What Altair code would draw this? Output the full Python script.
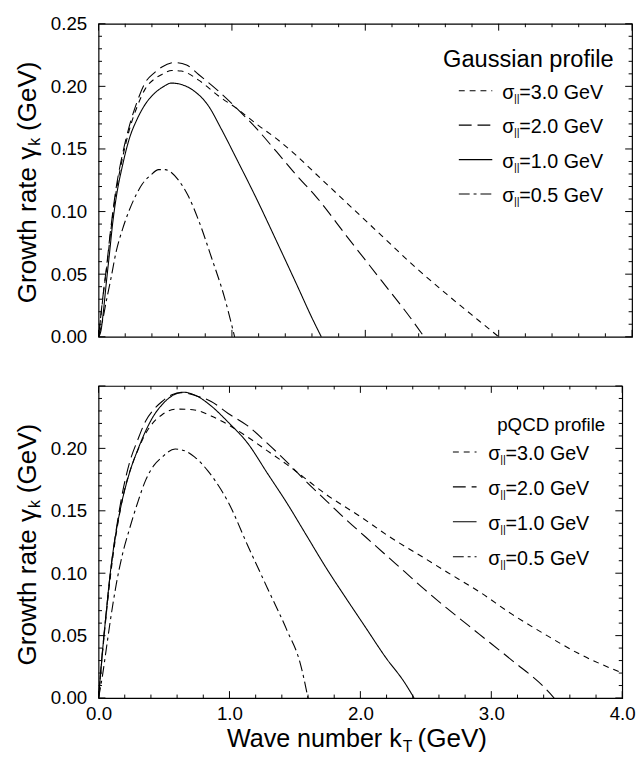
import altair as alt
import pandas as pd

FONT = "Liberation Sans"

# ---------------- data ----------------
SERIES = ["3.0", "2.0", "1.0", "0.5"]
DASHES = [[6, 5], [13, 6], [1, 0], [11, 4, 3, 4]]

# Gaussian profile (top panel)
GA_K_30 = [0, 0.02, 0.04, 0.06, 0.09, 0.132, 0.18, 0.23, 0.29, 0.35, 0.42, 0.475, 0.55, 0.62, 0.75, 0.895,
           1.04, 1.19, 1.336, 1.48, 1.63, 1.87, 2.12, 2.36, 2.61, 2.85, 3.0]
GA_G_30 = [0, 0.019, 0.038, 0.054, 0.083, 0.116, 0.143, 0.165, 0.184, 0.198, 0.206, 0.2095, 0.2126, 0.2122,
           0.205, 0.1927, 0.182, 0.1695, 0.158, 0.145, 0.130, 0.106, 0.081, 0.057, 0.034, 0.013, 0]
GA_K_20 = [0, 0.02, 0.04, 0.059, 0.09, 0.132, 0.18, 0.23, 0.29, 0.35, 0.42, 0.475, 0.57, 0.66, 0.75, 0.895,
           1.04, 1.19, 1.336, 1.48, 1.63, 1.87, 2.12, 2.36, 2.44]
GA_G_20 = [0, 0.02, 0.039, 0.055, 0.085, 0.119, 0.146, 0.168, 0.188, 0.203, 0.211, 0.2155, 0.219, 0.217,
           0.2095, 0.1966, 0.182, 0.1656, 0.1476, 0.1295, 0.112, 0.079, 0.045, 0.012, 0]
GA_K_10 = [0, 0.02, 0.034, 0.06, 0.083, 0.105, 0.132, 0.18, 0.23, 0.29, 0.352, 0.415, 0.475, 0.548, 0.62,
           0.72, 0.82, 0.92, 1.04, 1.19, 1.336, 1.48, 1.605, 1.67]
GA_G_10 = [0, 0.006, 0.018, 0.045, 0.0676, 0.09, 0.111, 0.137, 0.158, 0.174, 0.186, 0.194, 0.199, 0.2026,
           0.2015, 0.196, 0.185, 0.166, 0.141, 0.109, 0.076, 0.043, 0.014, 0]
GA_K_05 = [0, 0.03, 0.059, 0.09, 0.132, 0.18, 0.23, 0.28, 0.328, 0.39, 0.45, 0.5, 0.548, 0.6, 0.67, 0.75,
           0.846, 0.944, 1.02]
GA_G_05 = [0, 0.013, 0.029, 0.045, 0.068, 0.086, 0.101, 0.113, 0.122, 0.129, 0.1335, 0.1335, 0.131, 0.125,
           0.113, 0.093, 0.0635, 0.0315, 0]

# pQCD profile (bottom panel)
PQ_K_30 = [0, 0.03, 0.06, 0.09, 0.14, 0.19, 0.26, 0.31, 0.36, 0.42, 0.485, 0.6, 0.72, 0.86, 0.99, 1.14, 1.29,
           1.44, 1.565, 1.74, 1.99, 2.24, 2.49, 2.66, 2.91, 3.16, 3.41, 3.66, 4.0]
PQ_G_30 = [0, 0.036, 0.068, 0.097, 0.135, 0.163, 0.188, 0.201, 0.212, 0.221, 0.227, 0.2315, 0.231, 0.226,
           0.219, 0.209, 0.198, 0.187, 0.177, 0.163, 0.146, 0.128, 0.112, 0.101, 0.085, 0.067, 0.051, 0.036, 0.02]
PQ_K_20 = [0, 0.03, 0.06, 0.09, 0.135, 0.18, 0.235, 0.3, 0.36, 0.42, 0.485, 0.56, 0.635, 0.75, 0.86, 0.99,
           1.14, 1.29, 1.44, 1.59, 1.74, 1.89, 2.04, 2.19, 2.34, 2.49, 2.66, 2.91, 3.16, 3.41, 3.48]
PQ_G_20 = [0, 0.038, 0.07, 0.10, 0.135, 0.163, 0.188, 0.207, 0.222, 0.231, 0.2376, 0.243, 0.2447, 0.242,
           0.2376, 0.228, 0.218, 0.204, 0.189, 0.173, 0.158, 0.143, 0.129, 0.115, 0.101, 0.087, 0.072, 0.051,
           0.030, 0.008, 0]
PQ_K_10 = [0, 0.035, 0.06, 0.085, 0.12, 0.16, 0.235, 0.3, 0.36, 0.42, 0.485, 0.56, 0.647, 0.75, 0.86, 0.99,
           1.14, 1.29, 1.44, 1.59, 1.74, 1.89, 2.04, 2.19, 2.34, 2.41]
PQ_G_10 = [0, 0.043, 0.07, 0.096, 0.124, 0.148, 0.18, 0.199, 0.214, 0.226, 0.235, 0.242, 0.245, 0.242, 0.234,
           0.221, 0.204, 0.18, 0.156, 0.13, 0.104, 0.080, 0.0565, 0.033, 0.012, 0]
PQ_K_05 = [0, 0.03, 0.06, 0.09, 0.135, 0.18, 0.235, 0.3, 0.36, 0.42, 0.485, 0.585, 0.66, 0.735, 0.835, 0.935,
           0.99, 1.14, 1.29, 1.44, 1.54, 1.60]
PQ_G_05 = [0, 0.018, 0.04, 0.062, 0.091, 0.114, 0.135, 0.157, 0.1746, 0.186, 0.193, 0.1995, 0.198, 0.193,
           0.182, 0.167, 0.157, 0.122, 0.088, 0.054, 0.028, 0]

X_LABELS = [0.0, 1.0, 2.0, 3.0, 4.0]
Y_LABELS_TOP = [0.0, 0.05, 0.10, 0.15, 0.20, 0.25]
Y_LABELS_BOT = [0.0, 0.05, 0.10, 0.15, 0.20]
X_MAJOR = [0.0, 1.0, 2.0, 3.0, 4.0]
X_MINOR = [0.2, 0.4, 0.6, 0.8, 1.2, 1.4, 1.6, 1.8, 2.2, 2.4, 2.6, 2.8, 3.2, 3.4, 3.6, 3.8]
Y_MAJOR = [0.0, 0.05, 0.10, 0.15, 0.20, 0.25]
Y_MINOR = [0.01, 0.02, 0.03, 0.04, 0.06, 0.07, 0.08, 0.09, 0.11, 0.12, 0.13, 0.14,
           0.16, 0.17, 0.18, 0.19, 0.21, 0.22, 0.23, 0.24]
LEG_VALUES = ["=3.0 GeV", "=2.0 GeV", "=1.0 GeV", "=0.5 GeV"]


def curves_df(ks, gs):
    rows = []
    for name, k, g in zip(SERIES, ks, gs):
        for a, b in zip(k, g):
            rows.append({"k": a, "g": b, "s": name})
    return pd.DataFrame(rows)


ONE = pd.DataFrame({"a": [0]})


def txt(s, x, y, size, align="left", angle=0, dy=0, baseline="alphabetic"):
    return alt.Chart(ONE).mark_text(
        text=s, font=FONT, fontSize=size, align=align, baseline=baseline,
        angle=angle, dy=dy, color="black"
    ).encode(x=alt.value(x), y=alt.value(y))


def panel(df, W, H, ylabels, show_x, title_text, title_size, title_x, title_y,
          samp_x1, samp_x2, sig_x, rows_y, ytitle_top):
    xs = alt.Scale(domain=[0, 4], nice=False, zero=False)
    ys = alt.Scale(domain=[0, 0.25], nice=False, zero=False)
    if show_x:
        xax = alt.Axis(values=X_LABELS, format=".1f", ticks=False, tickSize=0, domain=False,
                       grid=False, title=None, labelFont=FONT, labelFontSize=19,
                       labelPadding=7, labelColor="black", labelFlush=False, labelOverlap=False)
    else:
        xax = None
    yax = alt.Axis(values=ylabels, format=".2f", ticks=False, tickSize=0, domain=False,
                   grid=False, title=None, labelFont=FONT, labelFontSize=19,
                   labelPadding=12, labelColor="black", labelFlush=False, labelOverlap=False)

    X = lambda: alt.X("k:Q", scale=xs, axis=xax)
    Y = lambda: alt.Y("g:Q", scale=ys, axis=yax)

    layers = []
    lines = alt.Chart(df).mark_line(color="black", strokeWidth=1.1, interpolate="monotone").encode(
        x=X(), y=Y(),
        strokeDash=alt.StrokeDash("s:N", scale=alt.Scale(domain=SERIES, range=DASHES), legend=None),
    )
    layers.append(lines)

    xmaj = pd.DataFrame({"k": X_MAJOR})
    xmin = pd.DataFrame({"k": X_MINOR})
    ymaj = pd.DataFrame({"g": Y_MAJOR})
    ymin = pd.DataFrame({"g": Y_MINOR})
    for d, ln in ((xmaj, 7), (xmin, 3.5)):
        layers.append(alt.Chart(d).mark_rule(color="black", strokeWidth=1).encode(
            x=X(), y=alt.value(H), y2=alt.value(H - ln)))
        layers.append(alt.Chart(d).mark_rule(color="black", strokeWidth=1).encode(
            x=X(), y=alt.value(0), y2=alt.value(ln)))
    for d, ln in ((ymaj, 7), (ymin, 3.5)):
        layers.append(alt.Chart(d).mark_rule(color="black", strokeWidth=1).encode(
            y=Y(), x=alt.value(0), x2=alt.value(ln)))
        layers.append(alt.Chart(d).mark_rule(color="black", strokeWidth=1).encode(
            y=Y(), x=alt.value(W), x2=alt.value(W - ln)))

    # legend block
    layers.append(txt(title_text, title_x, title_y, title_size))
    for i, ry in enumerate(rows_y):
        rule = alt.Chart(ONE).mark_rule(color="black", strokeWidth=1.1, strokeDash=DASHES[i]).encode(
            x=alt.value(samp_x1), x2=alt.value(samp_x2), y=alt.value(ry))
        layers.append(rule)
        layers.append(txt("σ", sig_x, ry + 8.3, 20))
        layers.append(txt("||", sig_x + 12, ry + 11.3, 11))
        layers.append(txt(LEG_VALUES[i], sig_x + 17.5, ry + 8.3, 20))

    # y-axis title with subscript
    tx = -64
    g_bottom = ytitle_top + 243
    main_end = g_bottom - 158
    layers.append(txt("Growth rate γ", tx, main_end, 26.5, align="right", angle=270))
    layers.append(txt("k", tx + 5, main_end - 1, 16, align="left", angle=270))
    layers.append(txt("(GeV)", tx, main_end - 16, 26.5, align="left", angle=270))

    if show_x:
        by = H + 50
        layers.append(txt("Wave number k", 308, by, 25.5, align="right"))
        layers.append(txt("T", 309, by + 5, 16, align="left"))
        layers.append(txt("(GeV)", 324, by, 26.5, align="left"))

    return alt.layer(*layers).properties(width=W, height=H)


top = panel(curves_df([GA_K_30, GA_K_20, GA_K_10, GA_K_05], [GA_G_30, GA_G_20, GA_G_10, GA_G_05]),
            542, 318, Y_LABELS_TOP, False, "Gaussian profile", 24, 350, 44,
            366, 400, 410, [68, 103, 138, 173], 40)
bottom = panel(curves_df([PQ_K_30, PQ_K_20, PQ_K_10, PQ_K_05], [PQ_G_30, PQ_G_20, PQ_G_10, PQ_G_05]),
               532, 317, Y_LABELS_BOT, True, "pQCD profile", 19, 405, 46,
               360, 384, 396, [67, 102.5, 138, 173.5], 40)

chart = alt.vconcat(top, bottom, spacing=50, bounds="flush").properties(
    padding={"left": 6, "top": 0, "right": 0, "bottom": 0},
    background="white",
).configure_view(stroke="black", strokeWidth=1.2)

chart.save("out.html", embed_options={"renderer": "svg", "actions": False})
